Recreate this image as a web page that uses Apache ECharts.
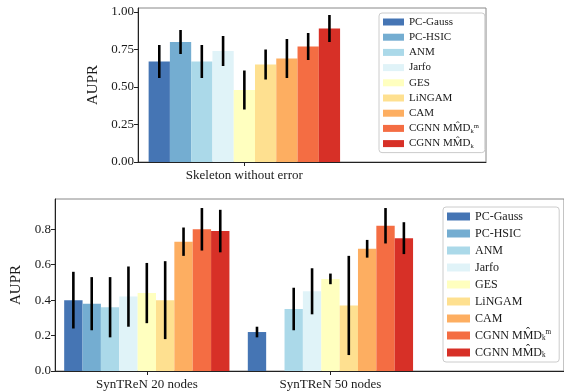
<!DOCTYPE html>
<html>
<head>
<meta charset="utf-8">
<script src="https://cdn.jsdelivr.net/npm/echarts@6/dist/echarts.min.js"></script>
<style>html,body{margin:0;padding:0;background:#fff}#c{width:564px;height:392px}</style>
</head>
<body>
<div id="c"></div>
<script>
// ---- data ----
const methods = ['PC-Gauss','PC-HSIC','ANM','Jarfo','GES','LiNGAM','CAM','CGNN MMD_k^m','CGNN MMD_k'];
const topCategories = ['Skeleton without error'];
const topMeans = [0.67, 0.80, 0.67, 0.74, 0.48, 0.65, 0.69, 0.77, 0.89];
const topErrs  = [0.11, 0.08, 0.11, 0.10, 0.13, 0.10, 0.13, 0.09, 0.09];
const botCategories = ['SynTReN 20 nodes', 'SynTReN 50 nodes'];
const syn20Means = [0.40, 0.38, 0.36, 0.42, 0.44, 0.40, 0.73, 0.80, 0.79];
const syn20Errs  = [0.16, 0.15, 0.17, 0.17, 0.17, 0.22, 0.08, 0.12, 0.12];
const syn50Means = [0.22, null, 0.35, 0.45, 0.52, 0.37, 0.69, 0.82, 0.75];
const syn50Errs  = [0.03, null, 0.12, 0.13, 0.03, 0.28, 0.05, 0.10, 0.09];
const topYTicks = [0, 0.25, 0.5, 0.75, 1.0];
const botYTicks = [0, 0.2, 0.4, 0.6, 0.8];

// ---- styles ----
const colors = ['#4575b4','#74add1','#abd9e9','#e0f3f8','#ffffbf','#fee090','#fdae61','#f46d43','#d73027'];
const FONT = 'Liberation Serif, DejaVu Serif, serif';
const TXT = '#1a1a1a';

function makeRender(i) {
  return function (params, api) {
    const cat = api.value(0), v = api.value(1), e = api.value(2);
    const w = api.size([0.1, 0])[0];
    const p = api.coord([cat, v]);
    const b = api.coord([cat, 0]);
    const x = p[0] + (i - 4) * w;
    const hi = api.coord([cat, v + e]);
    const lo = api.coord([cat, v - e]);
    return {
      type: 'group',
      children: [
        {type: 'rect', shape: {x: x - w / 2, y: p[1], width: w, height: b[1] - p[1]}, style: {fill: colors[i]}},
        {type: 'line', shape: {x1: x, y1: hi[1], x2: x, y2: lo[1]}, style: {stroke: '#000', lineWidth: 2.6}, z2: 10}
      ]
    };
  };
}

const series = [];
methods.forEach(function (m, i) {
  series.push({
    type: 'custom', name: m, xAxisIndex: 0, yAxisIndex: 0,
    itemStyle: {color: colors[i]},
    renderItem: makeRender(i),
    encode: {x: 0, y: 1},
    data: [[0, topMeans[i], topErrs[i]]]
  });
});
methods.forEach(function (m, i) {
  const d = [];
  if (syn20Means[i] != null) d.push([0, syn20Means[i], syn20Errs[i]]);
  if (syn50Means[i] != null) d.push([1, syn50Means[i], syn50Errs[i]]);
  series.push({
    type: 'custom', name: m, xAxisIndex: 1, yAxisIndex: 1,
    itemStyle: {color: colors[i]},
    renderItem: makeRender(i),
    encode: {x: 0, y: 1},
    data: d
  });
});

function legendFormatter(name) {
  if (name === 'CGNN MMD_k^m') return 'CGNN MM\u0302D{sub|k}{sup|m}';
  if (name === 'CGNN MMD_k') return 'CGNN MM\u0302D{sub|k}';
  return name;
}
function legendStyle(fs) {
  return {
    fontFamily: FONT, fontSize: fs, color: TXT, lineHeight: fs + 1,
    rich: {
      sub: {fontFamily: FONT, fontSize: fs * 0.6, color: TXT, padding: [fs * 0.5, 0, 0, 0], verticalAlign: 'bottom'},
      sup: {fontFamily: FONT, fontSize: fs * 0.6, color: TXT, padding: [0, 0, fs * 0.6, 0], verticalAlign: 'top'}
    }
  };
}

function xAxisCfg(gi, max, cats) {
  return {
    type: 'value', gridIndex: gi, min: -0.5, max: max,
    axisLine: {show: true, onZero: false, lineStyle: {color: '#222', width: 1}},
    axisTick: {show: true, customValues: cats.map(function (c, k) { return k; }), length: 4, lineStyle: {color: '#222'}},
    axisLabel: {customValues: cats.map(function (c, k) { return k; }), formatter: function (v) { return cats[Math.round(v)] || ''; },
      fontFamily: FONT, fontSize: 13, color: TXT, margin: 7},
    splitLine: {show: false}
  };
}
function yAxisCfg(gi, max, ticks, dec, gap) {
  return {
    type: 'value', gridIndex: gi, min: 0, max: max,
    name: 'AUPR', nameLocation: 'middle', nameRotate: 90, nameGap: gap,
    nameTextStyle: {fontFamily: FONT, fontSize: 15, color: TXT},
    axisLine: {show: true, onZero: false, lineStyle: {color: '#222', width: 1}},
    axisTick: {show: true, customValues: ticks, length: 4, lineStyle: {color: '#222'}},
    axisLabel: {customValues: ticks, formatter: function (v) { return v.toFixed(dec); },
      fontFamily: FONT, fontSize: 13, color: TXT, margin: 4},
    splitLine: {show: false}
  };
}

const option = {
  animation: false,
  backgroundColor: '#fff',
  grid: [
    {left: 138, top: 8, width: 348, height: 154, show: true, borderColor: '#888', borderWidth: 1, backgroundColor: 'transparent'},
    {left: 55, top: 199, width: 510, height: 172, show: true, borderColor: '#888', borderWidth: 1, backgroundColor: 'transparent'}
  ],
  xAxis: [xAxisCfg(0, 1.136, topCategories), xAxisCfg(1, 2.272, botCategories)],
  yAxis: [yAxisCfg(0, 1.0267, topYTicks, 2, 30), yAxisCfg(1, 0.971, botYTicks, 1, 31)],
  legend: [
    {
      orient: 'vertical', left: 379, top: 13, data: methods,
      icon: 'rect', itemWidth: 21, itemHeight: 7, itemGap: 3.2,
      padding: [3, 6, 3, 4],
      backgroundColor: '#fff', borderColor: '#ccc', borderWidth: 1, borderRadius: 3,
      formatter: legendFormatter, textStyle: legendStyle(11), selectedMode: false
    },
    {
      orient: 'vertical', left: 443, top: 207, data: methods,
      icon: 'rect', itemWidth: 23, itemHeight: 8, itemGap: 4,
      padding: [3, 8, 3, 4],
      backgroundColor: '#fff', borderColor: '#ccc', borderWidth: 1, borderRadius: 3,
      formatter: legendFormatter, textStyle: legendStyle(12), selectedMode: false
    }
  ],
  series: series
};

const chart = echarts.init(document.getElementById('c'), null, {renderer: 'canvas'});
chart.setOption(option);
</script>
</body>
</html>
